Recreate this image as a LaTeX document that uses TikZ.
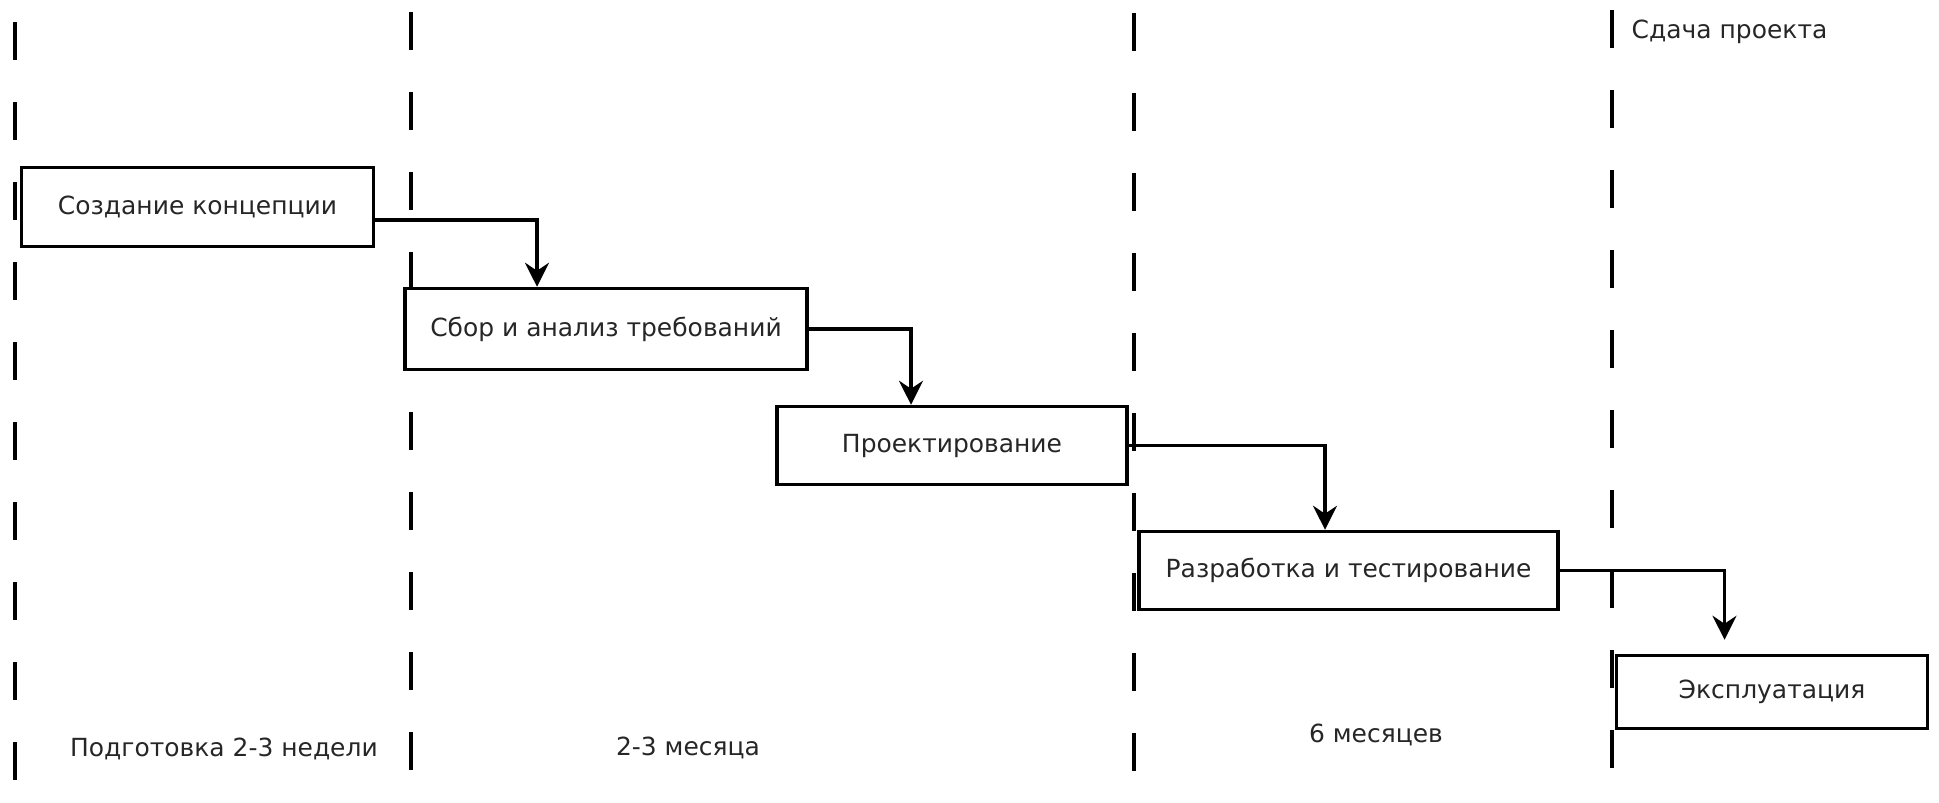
\documentclass[tikz,border=0pt]{standalone}
\usepackage{fontspec}
\setmainfont{DejaVu Sans}
\usetikzlibrary{arrows.meta}
\def\txtsize{\fontsize{7.1}{8.5}\selectfont}
\tikzset{
  stage/.style={draw, line width=1pt, fill=white, inner sep=0pt, text=black!85, font=\txtsize},
  phase/.style={line width=0.9pt, dash pattern=on 3.8mm off 4.2mm},
  flow/.style={line width=0.9pt, -{Stealth[length=2.4mm,width=2.4mm,inset=0.8mm]}},
  note/.style={inner sep=0pt, text=black!85, font=\txtsize}
}

\begin{document}
\begin{tikzpicture}[x=0.1mm,y=-0.1mm]
	\useasboundingbox (0,0) rectangle (1939,802);
	
	%phase borders
	\draw[phase] (15,22) -- (15,780);
	\draw[phase] (411,12) -- (411,770);
	\draw[phase] (1134,13) -- (1134,771);
	\draw[phase] (1612,10) -- (1612,768);
	
	%stages
	\node[stage, minimum width=35.2mm, minimum height=7.9mm] (concept) at (197.5,207) {Создание концепции};
	\node[stage, minimum width=40.2mm, minimum height=8.1mm] (req) at (606,329) {Сбор и анализ требований};
	\node[stage, minimum width=35.0mm, minimum height=7.8mm] (design) at (952,445.5) {Проектирование};
	\node[stage, minimum width=41.9mm, minimum height=7.8mm] (devtest) at (1348.5,570.5) {Разработка и тестирование};
	\node[stage, minimum width=31.1mm, minimum height=7.3mm] (ops) at (1772,692) {Эксплуатация};
	
	%arrows between stages
	\draw[flow] ([yshift=-1.3mm]concept.east) -| ([xshift=-6.9mm]req.north);
	\draw[flow] (req.east) -| ([xshift=-4.1mm]design.north);
	\draw[flow] (design.east) -| ([xshift=-2.35mm]devtest.north);
	\draw[flow, shorten >=1.4mm] (devtest.east) -| ([xshift=-4.75mm]ops.north);
	
	%durations
	\node[note, anchor=west] (handover) at (1631,32) {Сдача проекта};
	\node[note] (prep) at (224,749) {Подготовка 2-3 недели};
	\node[note] (months23) at (688,748) {2-3 месяца};
	\node[note] (months6) at (1376,735) {6 месяцев};
\end{tikzpicture}
\end{document}
